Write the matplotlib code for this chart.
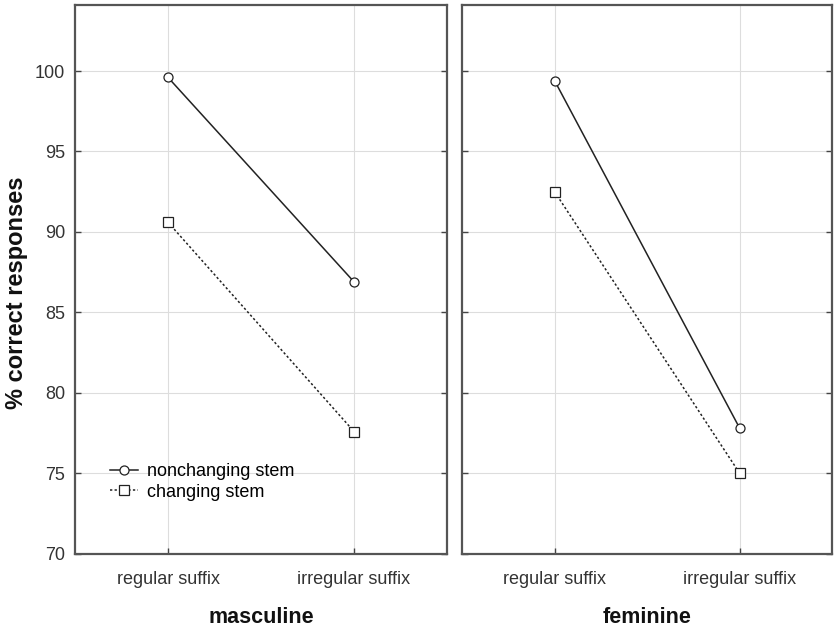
import matplotlib
matplotlib.use("Agg")
import matplotlib.pyplot as plt

categories = ["regular suffix", "irregular suffix"]
panels = ["masculine", "feminine"]
nonchanging = {"masculine": [99.6, 86.9], "feminine": [99.4, 77.8]}
changing = {"masculine": [90.6, 77.6], "feminine": [92.5, 75.0]}
yticks = [70, 75, 80, 85, 90, 95, 100]

plt.rcParams['font.family'] = ['Liberation Sans', 'DejaVu Sans']

fig = plt.figure(figsize=(8.34, 6.28), dpi=100)
ax1 = fig.add_axes([0.090, 0.118, 0.446, 0.874])
ax2 = fig.add_axes([0.554, 0.118, 0.444, 0.874])

for ax, p in zip([ax1, ax2], panels):
    x = list(range(len(categories)))
    ax.plot(x, nonchanging[p], color='#222222', lw=1.1, ls='-', marker='o',
            ms=6.5, mfc='white', mec='#222222', mew=0.9, label='nonchanging stem')
    ax.plot(x, changing[p], color='#222222', lw=1.1, ls=(0, (1.5, 1.5)), marker='s',
            ms=6.5, mfc='white', mec='#222222', mew=0.9, label='changing stem')
    ax.set_xlim(-0.5, 1.5)
    ax.set_ylim(70, 104.1)
    ax.set_xticks(x)
    ax.set_xticklabels(categories, fontsize=13, color='#333333')
    ax.set_yticks(yticks)
    ax.grid(True, color='#dddddd', lw=0.8)
    ax.set_axisbelow(True)
    for s in ax.spines.values():
        s.set_color('#555555')
        s.set_linewidth(1.6)
    ax.tick_params(axis='both', direction='in', length=4, width=1, color='#444444',
                   left=True, right=True, top=False, bottom=True)
    ax.tick_params(axis='x', pad=12)
    ax.tick_params(axis='y', pad=7)
    ax.set_xlabel(p, fontsize=15.5, fontweight='bold', labelpad=14, color='#111111')

ax1.set_yticklabels([str(v) for v in yticks], fontsize=13, color='#333333')
ax2.tick_params(axis='y', labelleft=False)
ax1.set_ylabel('% correct responses', fontsize=17, fontweight='bold', color='#111111')
ax1.yaxis.set_label_coords(-0.126, 0.475)

ax1.legend(loc='lower left', bbox_to_anchor=(0.075, 0.084), frameon=False, fontsize=13,
           handlelength=1.55, handletextpad=0.5, labelspacing=0.17, borderaxespad=0)

fig.savefig('out.png', dpi=100)
